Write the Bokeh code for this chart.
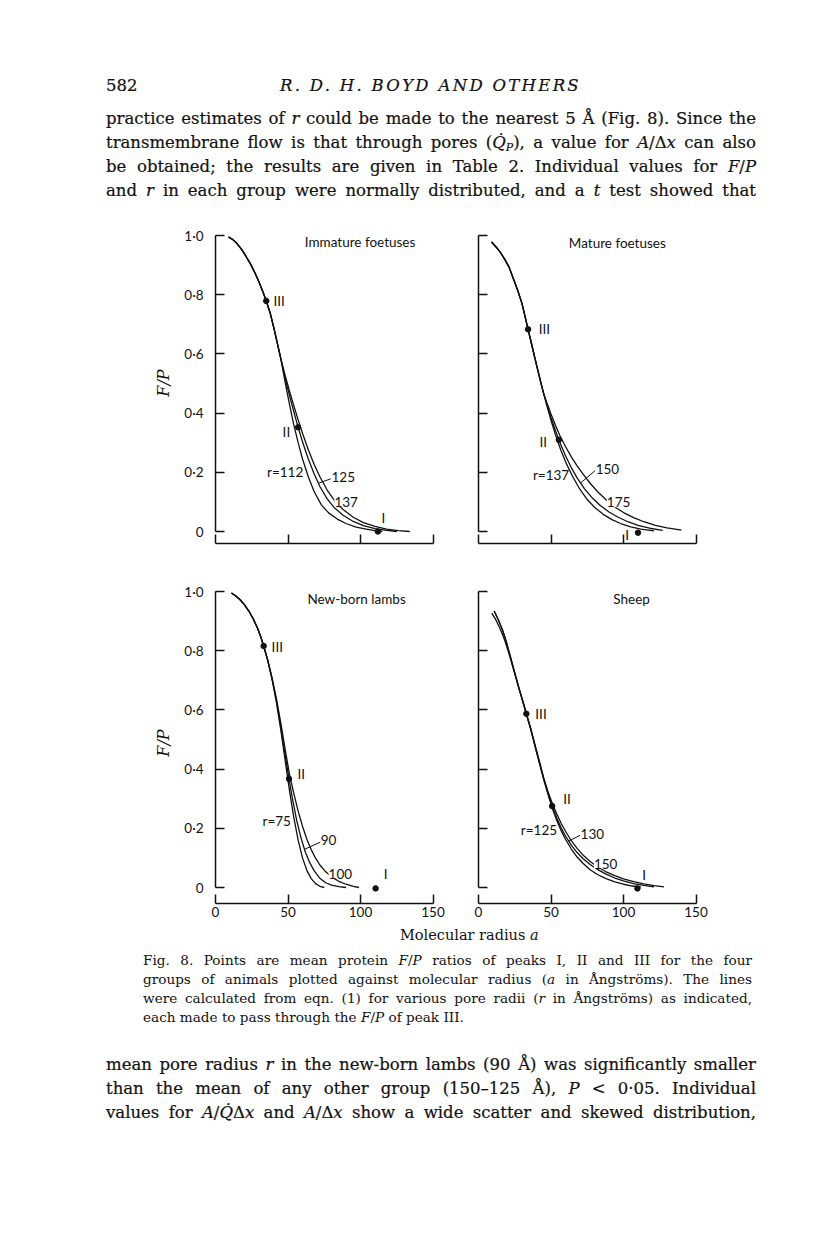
from bokeh.plotting import figure
from bokeh.layouts import row, column
from bokeh.models import Div, Range1d, FixedTicker
from bokeh.embed import file_html
from bokeh.resources import INLINE
from bokeh.core.properties import value

INK = "#111111"
SERIF = "DejaVu Serif"
SANS = "Lato"

# ---------------- data ----------------
x_ticks = [0, 50, 100, 150]
x_tick_labels = ["0", "50", "100", "150"]
y_ticks = [0, 0.2, 0.4, 0.6, 0.8, 1.0]
y_tick_labels = ["0", "0·2", "0·4", "0·6", "0·8", "1·0"]

# Immature foetuses, pore radii r = 112, 125, 137
imm_r112_x = [9, 12, 15, 18, 21, 24, 27, 30, 33, 35, 38, 41, 45, 48, 51, 54, 57, 60, 64, 68, 73, 78, 84, 90, 97, 104, 110, 115]
imm_r112_y = [0.995, 0.986, 0.972, 0.953, 0.93, 0.905, 0.876, 0.843, 0.806, 0.779, 0.733, 0.672, 0.585, 0.505, 0.43, 0.36, 0.3, 0.245, 0.185, 0.135, 0.09, 0.063, 0.042, 0.027, 0.015, 0.008, 0.003, 0.0]
imm_r125_x = [9, 12, 15, 18, 21, 24, 27, 30, 33, 35, 38, 41, 45, 48, 51, 54, 57, 60, 64, 68, 72, 77, 82, 88, 95, 102, 110, 118, 125]
imm_r125_y = [0.995, 0.986, 0.972, 0.953, 0.93, 0.905, 0.876, 0.843, 0.806, 0.779, 0.733, 0.672, 0.585, 0.518, 0.46, 0.405, 0.352, 0.303, 0.245, 0.195, 0.152, 0.11, 0.08, 0.055, 0.034, 0.02, 0.01, 0.004, 0.0]
imm_r137_x = [9, 12, 15, 18, 21, 24, 27, 30, 33, 35, 38, 41, 45, 48, 51, 54, 57, 60, 64, 68, 72, 77, 82, 88, 95, 102, 110, 118, 126, 134]
imm_r137_y = [0.995, 0.986, 0.972, 0.953, 0.93, 0.905, 0.876, 0.843, 0.806, 0.779, 0.733, 0.672, 0.585, 0.528, 0.475, 0.425, 0.377, 0.332, 0.276, 0.227, 0.185, 0.14, 0.105, 0.074, 0.048, 0.03, 0.017, 0.008, 0.003, 0.0]
imm_peak_x = [35, 57, 112]
imm_peak_y = [0.779, 0.352, 0.0]

# Mature foetuses, r = 137, 150, 175
mat_r137_x = [9, 12, 15, 18, 21, 24, 27, 30, 34.2, 37, 40, 43, 45, 47, 50, 53, 57, 61, 65, 70, 75, 80, 86, 92, 98, 105, 112, 121]
mat_r137_y = [0.978, 0.962, 0.944, 0.92, 0.894, 0.855, 0.815, 0.77, 0.683, 0.625, 0.563, 0.503, 0.465, 0.428, 0.376, 0.328, 0.272, 0.225, 0.185, 0.142, 0.108, 0.082, 0.058, 0.04, 0.027, 0.016, 0.008, 0.002]
mat_r150_x = [9, 12, 15, 18, 21, 24, 27, 30, 34.2, 37, 40, 43, 45, 47, 50, 53, 56, 60, 64, 68, 73, 78, 84, 90, 96, 103, 110, 118, 127]
mat_r150_y = [0.978, 0.962, 0.944, 0.92, 0.894, 0.855, 0.815, 0.77, 0.683, 0.625, 0.563, 0.503, 0.465, 0.432, 0.385, 0.342, 0.302, 0.256, 0.216, 0.181, 0.145, 0.116, 0.088, 0.066, 0.049, 0.033, 0.021, 0.011, 0.004]
mat_r175_x = [9, 12, 15, 18, 21, 24, 27, 30, 34.2, 37, 40, 43, 45, 47, 50, 53, 56, 60, 64, 68, 72, 77, 82, 88, 94, 100, 107, 114, 122, 130, 140]
mat_r175_y = [0.978, 0.962, 0.944, 0.92, 0.894, 0.855, 0.815, 0.77, 0.683, 0.625, 0.563, 0.503, 0.465, 0.437, 0.397, 0.36, 0.325, 0.287, 0.252, 0.222, 0.195, 0.163, 0.135, 0.107, 0.083, 0.064, 0.047, 0.033, 0.021, 0.012, 0.005]
mat_peak_x = [34.2, 55.4, 110]
mat_peak_y = [0.683, 0.31, -0.004]

# New-born lambs, r = 75, 90, 100
nb_r75_x = [11, 14, 17, 20, 23, 26, 29, 31, 33.2, 36, 39, 42, 45, 48, 51, 54, 57, 60, 63, 66, 69, 72, 75]
nb_r75_y = [0.995, 0.985, 0.972, 0.955, 0.934, 0.908, 0.876, 0.85, 0.816, 0.768, 0.703, 0.625, 0.533, 0.43, 0.328, 0.237, 0.16, 0.1, 0.058, 0.03, 0.013, 0.004, 0.0]
nb_r90_x = [11, 14, 17, 20, 23, 26, 29, 31, 33.2, 36, 39, 42, 45, 48, 50.7, 53, 56, 59, 62, 65, 68, 72, 76, 80, 85, 90]
nb_r90_y = [0.995, 0.985, 0.972, 0.955, 0.934, 0.908, 0.876, 0.85, 0.816, 0.768, 0.706, 0.632, 0.545, 0.448, 0.367, 0.302, 0.227, 0.167, 0.119, 0.084, 0.057, 0.031, 0.016, 0.008, 0.003, 0.0]
nb_r100_x = [11, 14, 17, 20, 23, 26, 29, 31, 33.2, 36, 39, 42, 45, 48, 51, 54, 57, 60, 63, 66, 69, 72, 76, 80, 85, 90, 95, 99]
nb_r100_y = [0.995, 0.985, 0.972, 0.955, 0.934, 0.908, 0.876, 0.85, 0.816, 0.768, 0.708, 0.638, 0.557, 0.468, 0.383, 0.318, 0.258, 0.207, 0.163, 0.128, 0.099, 0.076, 0.053, 0.036, 0.021, 0.011, 0.004, 0.0]
nb_peak_x = [33.2, 50.7, 110.4]
nb_peak_y = [0.816, 0.367, -0.003]

# Sheep, r = 125, 130, 150
sh_r125_x = [10.8, 13.5, 16.5, 19, 22, 25, 28, 31, 33, 36, 39, 42, 45, 48, 51, 54, 57, 60, 64, 68, 72, 77, 82, 88, 94, 100, 106, 112]
sh_r125_y = [0.934, 0.906, 0.871, 0.833, 0.78, 0.725, 0.672, 0.622, 0.587, 0.535, 0.477, 0.42, 0.365, 0.313, 0.266, 0.226, 0.192, 0.163, 0.13, 0.103, 0.082, 0.06, 0.044, 0.03, 0.019, 0.011, 0.005, 0.002]
sh_r130_x = [10.8, 13.5, 16.5, 19, 22, 25, 28, 31, 33, 36, 39, 42, 45, 48, 51, 54, 57, 60, 64, 68, 72, 77, 82, 88, 94, 100, 107, 114, 121]
sh_r130_y = [0.934, 0.906, 0.871, 0.833, 0.78, 0.725, 0.672, 0.622, 0.587, 0.535, 0.478, 0.422, 0.366, 0.317, 0.273, 0.235, 0.202, 0.174, 0.143, 0.118, 0.098, 0.078, 0.061, 0.045, 0.032, 0.022, 0.013, 0.007, 0.002]
sh_r150_x = [9.2, 12, 15, 18, 21, 25, 28, 31, 33, 36, 39, 42, 45, 48, 51, 54, 57, 60, 64, 68, 72, 77, 82, 88, 94, 100, 107, 114, 121, 128]
sh_r150_y = [0.927, 0.904, 0.873, 0.836, 0.79, 0.722, 0.67, 0.62, 0.587, 0.538, 0.482, 0.427, 0.37, 0.323, 0.283, 0.248, 0.217, 0.19, 0.158, 0.132, 0.11, 0.088, 0.07, 0.053, 0.04, 0.029, 0.02, 0.012, 0.006, 0.002]
sh_peak_x = [33, 50.8, 109.6]
sh_peak_y = [0.587, 0.275, -0.003]

# panel annotations: text, x, y, align, white background
imm_labels = [("III", 40, 0.779, "left", False), ("II", 51.5, 0.336, "right", False),
              ("I", 114.5, 0.045, "left", False), ("r=112", 60.5, 0.2, "right", False),
              ("125", 80, 0.183, "left", False), ("137", 82, 0.1, "left", True),
              ("Immature foetuses", 61.6, 0.977, "left", False)]
imm_leader = [(79.5, 0.178, 71, 0.163)]

mat_labels = [("III", 41.5, 0.683, "left", False), ("II", 47.3, 0.302, "right", False),
              ("I", 102.5, -0.012, "center", False), ("r=137", 62.5, 0.19, "right", False),
              ("150", 80.8, 0.212, "left", False), ("175", 88.5, 0.099, "left", True),
              ("Mature foetuses", 62.3, 0.974, "left", False)]
mat_leader = [(80.3, 0.205, 70.4, 0.164)]

nb_labels = [("III", 38.7, 0.814, "left", False), ("II", 56.5, 0.385, "left", False),
             ("I", 116, 0.047, "left", False), ("r=75", 52, 0.225, "right", False),
             ("90", 72.6, 0.16, "left", False), ("100", 78, 0.047, "left", True),
             ("New-born lambs", 63.4, 0.975, "left", False)]
nb_leader = [(72.2, 0.153, 61.4, 0.129)]

sh_labels = [("III", 39.2, 0.587, "left", False), ("II", 58.4, 0.298, "left", False),
             ("I", 113, 0.042, "left", False), ("r=125", 54.2, 0.193, "right", False),
             ("130", 70.4, 0.182, "left", False), ("150", 79.6, 0.081, "left", True),
             ("Sheep", 93, 0.975, "left", False)]
sh_leader = [(70, 0.176, 62.3, 0.157)]

# ---------------- layout constants ----------------
PX_PER_X = 1.45
PX_PER_Y = 296
FRAME_W = 230
FRAME_H = 321


def panel(curves, peak_x, peak_y, labels, leader, left, bottom, y0_off, ml, mr, mt, mb):
    y_lo = -y0_off / PX_PER_Y
    y_hi = y_lo + FRAME_H / PX_PER_Y
    p = figure(frame_width=FRAME_W, frame_height=FRAME_H,
               x_range=Range1d(0, FRAME_W / PX_PER_X), y_range=Range1d(y_lo, y_hi),
               min_border_left=ml, min_border_right=mr, min_border_top=mt, min_border_bottom=mb,
               toolbar_location=None, output_backend="svg")
    p.outline_line_color = None
    p.xgrid.visible = False
    p.ygrid.visible = False
    p.background_fill_color = "white"
    p.border_fill_color = "white"

    for xs, ys in curves:
        p.line(xs, ys, line_color=INK, line_width=1.3)
    p.scatter(peak_x, peak_y, size=5.5, fill_color=INK, line_color=INK)

    for (x0, y0, x1, y1) in leader:
        p.segment(x0=[x0], y0=[y0], x1=[x1], y1=[y1], line_color=INK, line_width=1)

    for (t, x, y, al, bg) in labels:
        kw = dict(text_font=value(SANS), text_font_size="13.5px", text_color=INK,
                  text_align=al, text_baseline="middle")
        if bg:
            kw["background_fill_color"] = "white"
        p.text(x=[x], y=[y], text=[t], **kw)

    for ax in (p.xaxis[0], p.yaxis[0]):
        ax.axis_line_color = INK
        ax.axis_line_width = 1.5
        ax.major_tick_line_color = INK
        ax.major_tick_line_width = 1.5
        ax.major_tick_in = 9
        ax.major_tick_out = 0
        ax.minor_tick_line_color = None
        ax.major_label_text_font = SANS
        ax.major_label_text_font_size = "13.5px"
        ax.major_label_text_color = INK

    xa = p.xaxis[0]
    xa.ticker = FixedTicker(ticks=x_ticks)
    xa.bounds = (0, 150)
    xa.major_label_overrides = dict(zip(x_ticks, x_tick_labels))
    xa.major_label_standoff = 3
    if not bottom:
        xa.major_label_text_color = None

    ya = p.yaxis[0]
    ya.ticker = FixedTicker(ticks=y_ticks)
    ya.bounds = (0, 1)
    ya.major_label_overrides = dict(zip(y_ticks, y_tick_labels))
    if left:
        ya.major_label_standoff = 12
        ya.axis_label = "F/P"
        ya.axis_label_text_font = SERIF
        ya.axis_label_text_font_style = "italic"
        ya.axis_label_text_font_size = "16px"
        ya.axis_label_text_color = INK
        ya.axis_label_standoff = 8
    else:
        ya.major_label_standoff = 2
        ya.major_label_text_color = None
    return p


tl = panel([(imm_r112_x, imm_r112_y), (imm_r125_x, imm_r125_y), (imm_r137_x, imm_r137_y)],
           imm_peak_x, imm_peak_y, imm_labels, imm_leader, True, False, 12, 215, 5, 22, 17)
tr = panel([(mat_r137_x, mat_r137_y), (mat_r150_x, mat_r150_y), (mat_r175_x, mat_r175_y)],
           mat_peak_x, mat_peak_y, mat_labels, mat_leader, False, False, 12, 28, 100, 22, 17)
bl = panel([(nb_r75_x, nb_r75_y), (nb_r90_x, nb_r90_y), (nb_r100_x, nb_r100_y)],
           nb_peak_x, nb_peak_y, nb_labels, nb_leader, True, True, 16, 215, 5, 22, 22)
br = panel([(sh_r125_x, sh_r125_y), (sh_r130_x, sh_r130_y), (sh_r150_x, sh_r150_y)],
           sh_peak_x, sh_peak_y, sh_labels, sh_leader, False, True, 16, 28, 100, 22, 22)

# ---------------- page text ----------------
def line(text, left, cy, width, lh, fs, align="justify", extra=""):
    top = cy - lh / 2
    return (f'<div style="position:absolute;left:{left}px;top:{top}px;width:{width}px;height:{lh}px;'
            f'line-height:{lh}px;font-size:{fs}px;text-align:{align};text-align-last:{align};{extra}">{text}</div>')

QDOT = "<i>Q&#775;</i>"
SUBP = '<span style="font-size:11px;position:relative;top:3px;font-style:italic">P</span>'

top_lines = [
    "practice estimates of <i>r</i> could be made to the nearest 5 &Aring; (Fig. 8). Since the",
    f"transmembrane flow is that through pores ({QDOT}{SUBP}), a value for <i>A</i>/&Delta;<i>x</i> can also",
    "be obtained; the results are given in Table 2. Individual values for <i>F</i>/<i>P</i>",
    "and <i>r</i> in each group were normally distributed, and a <i>t</i> test showed that",
]
caption_lines = [
    "Fig. 8. Points are mean protein <i>F</i>/<i>P</i> ratios of peaks I, II and III for the four",
    "groups of animals plotted against molecular radius (<i>a</i> in &Aring;ngstr&ouml;ms). The lines",
    "were calculated from eqn. (1) for various pore radii (<i>r</i> in &Aring;ngstr&ouml;ms) as indicated,",
    "each made to pass through the <i>F</i>/<i>P</i> of peak III.",
]
bottom_lines = [
    "mean pore radius <i>r</i> in the new-born lambs (90 &Aring;) was significantly smaller",
    "than the mean of any other group (150&ndash;125 &Aring;), <i>P</i> &lt; 0&middot;05. Individual",
    f"values for <i>A</i>/{QDOT}&Delta;<i>x</i> and <i>A</i>/&Delta;<i>x</i> show a wide scatter and skewed distribution,",
]

TOP_H, BOT_Y, BOT_H = 200, 925, 325
BODY_L, BODY_W, BODY_FS, BODY_LH = 106, 650, 16.5, 24
BOLDEN = "-webkit-text-stroke:0.2px #111;"

html_top = [line("582", BODY_L, 86, 60, BODY_LH, BODY_FS, "left", BOLDEN),
            line("<i>R. D. H. BOYD AND OTHERS</i>", 280, 86, 330, BODY_LH, 16.5, "left",
                 "letter-spacing:2.3px;" + BOLDEN)]
for i, t in enumerate(top_lines):
    html_top.append(line(t, BODY_L, 119 + 24 * i, BODY_W, BODY_LH, BODY_FS, "justify", BOLDEN))
top_div = Div(text=(f'<div style="position:relative;width:808px;height:{TOP_H}px;'
                    f'font-family:\'{SERIF}\';color:{INK};">' + "".join(html_top) + "</div>"),
              width=808, height=TOP_H, margin=(0, 0, 0, 0))

html_bot = [line("Molecular radius <i>a</i>", 400, 935 - BOT_Y, 160, 18, 14.5, "left")]
for i, t in enumerate(caption_lines):
    al = "justify" if i < 3 else "left"
    html_bot.append(line(t, 143, 960 + 19 * i - BOT_Y, 609, 19, 13.6, al))
for i, t in enumerate(bottom_lines):
    html_bot.append(line(t, BODY_L, 1065 + 24 * i - BOT_Y, BODY_W, BODY_LH, BODY_FS, "justify", BOLDEN))
bot_div = Div(text=(f'<div style="position:relative;width:808px;height:{BOT_H}px;'
                    f'font-family:\'{SERIF}\';color:{INK};">' + "".join(html_bot) + "</div>"),
              width=808, height=BOT_H, margin=(0, 0, 0, 0))

layout = column(top_div, row(tl, tr), row(bl, br), bot_div)

with open("out.html", "w") as f:
    f.write(file_html(layout, INLINE))
